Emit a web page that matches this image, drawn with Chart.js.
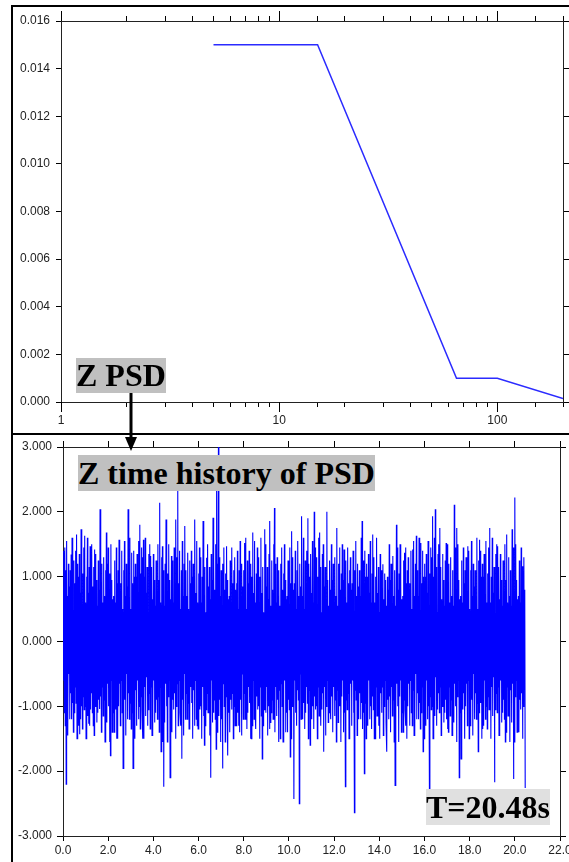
<!DOCTYPE html>
<html>
<head>
<meta charset="utf-8">
<script src="https://cdn.jsdelivr.net/npm/chart.js@4.4.1/dist/chart.umd.min.js"></script>
<style>
  html, body { margin: 0; padding: 0; background: #fff; }
  #page { position: relative; width: 569px; height: 862px; overflow: hidden; }
  .panel { position: absolute; box-sizing: border-box; border-left: 2px solid #000; border-top: 2px solid #000; }
  canvas { position: absolute; }
  .tag { position: absolute; font: bold 32px "Liberation Serif", "Times New Roman", serif; line-height: 35px;
         background: #c0c0c0; color: #000; white-space: nowrap; }
  .tag.light { background: #e0e0e0; line-height: 36px; }
  #arrow { position: absolute; left: 0; top: 0; pointer-events: none; }
</style>
</head>
<body>
<div id="page">
  <div class="panel" style="left:11px;top:5px;width:558px;height:428px"></div>
  <div class="panel" style="left:11px;top:433px;width:558px;height:429px"></div>
  <canvas id="psdChart" width="556" height="426" style="left:13px;top:7px"></canvas>
  <canvas id="timeChart" width="556" height="427" style="left:13px;top:435px"></canvas>
  <div class="tag" style="left:76px;top:358px">Z PSD</div>
  <div class="tag" style="left:78px;top:455px;line-height:36px">Z time history of PSD</div>
  <div class="tag light" style="left:426px;top:789px">T=20.48s</div>
  <svg id="arrow" width="569" height="862">
    <line x1="131" y1="393" x2="131" y2="438" stroke="#000" stroke-width="3"/>
    <polygon points="125,437 137,437 131,451" fill="#000"/>
  </svg>
</div>
<script>
// PSD profile breakpoints
const psdFreq  = [5, 15, 65, 100, 200];
const psdLevel = [0.015, 0.015, 0.001, 0.001, 0.00015];
const psdDecades = [1, 10, 100];

// time history, one sample every 0.02 s (16 samples per row)
const timeStep = 0.02;
const zAccel = [
  0.85,-0.6,1.4,-1.1,1.45,-1.3,1.1,-2.20,1.55,-0.9,0.7,-1.45,1.2,-0.5,0.85,-1.2,
  1.1,-0.8,1.34,-1.2,1.6,-0.95,0.5,-1.40,1.25,-1.1,0.9,-0.7,1.4,-0.95,1.65,-1.5,
  1.2,-0.75,1.0,-1.3,1.35,-1.43,0.75,-1.2,1.73,-1.0,0.6,-1.35,1.05,-0.85,1.45,-1.05,
  1.63,-1.0,0.6,-1.5,1.0,-0.7,1.6,-1.15,0.75,-1.27,1.15,-1.3,1.47,-1.05,1.35,-0.8,
  1.5,-1.1,0.85,-1.30,1.15,-1.45,1.42,-1.0,1.35,-0.6,0.95,-1.25,0.55,-1.1,1.25,-0.9,
  0.8,-1.04,2.04,-0.85,0.95,-1.4,1.2,-0.7,0.6,-1.15,1.3,-0.9,0.7,-1.55,1.1,-0.75,
  1.68,-1.25,1.2,-0.65,1.45,-1.0,0.8,-1.55,1.05,-1.76,1.5,-0.6,0.95,-1.4,0.65,-1.1,
  0.7,-1.4,1.25,-0.9,0.6,-1.05,1.45,-1.50,0.9,-1.5,1.1,-1.0,1.57,-0.65,0.8,-1.3,
  0.9,-0.6,1.4,-1.1,0.5,-1.96,1.1,-0.75,1.55,-0.9,0.7,-1.45,1.2,-0.5,0.85,-1.2,
  2.04,-0.8,0.7,-1.2,1.6,-0.95,0.5,-1.35,1.37,-1.1,0.9,-1.96,1.4,-0.95,1.0,-1.5,
  1.2,-0.75,1.0,-1.3,1.35,-0.6,0.75,-1.2,1.55,-1.0,1.80,-1.35,1.05,-0.85,1.45,-1.05,
  1.3,-1.50,1.57,-1.5,1.0,-0.7,1.6,-1.15,0.75,-0.55,1.15,-1.3,0.45,-1.05,1.35,-0.8,
  1.5,-1.35,1.32,-0.7,1.15,-1.45,0.65,-1.45,1.35,-0.6,0.95,-1.25,0.55,-1.1,1.25,-0.9,
  0.8,-1.2,1.5,-0.85,0.95,-1.4,2.14,-0.7,0.6,-1.70,1.3,-0.9,1.47,-1.55,1.1,-2.24,
  0.55,-1.25,1.2,-0.65,1.88,-1.0,0.8,-1.55,1.05,-0.85,1.5,-0.6,0.95,-2.10,0.65,-1.1,
  1.32,-1.4,1.25,-0.9,0.6,-1.05,1.45,-0.8,0.9,-1.50,1.88,-1.0,1.3,-0.65,2.34,-1.3,
  0.9,-0.6,1.4,-1.1,0.5,-1.3,1.1,-1.81,1.55,-0.9,0.7,-1.45,1.2,-0.5,1.78,-1.2,
  1.1,-0.8,0.7,-1.2,1.37,-0.95,0.5,-1.35,1.25,-1.1,0.9,-0.7,1.4,-0.95,1.0,-1.5,
  1.2,-0.75,1.0,-1.3,1.88,-0.6,0.75,-1.2,1.55,-1.30,0.6,-1.35,1.05,-0.85,1.45,-1.05,
  1.3,-1.0,0.6,-1.5,1.0,-0.7,1.86,-1.15,0.75,-1.60,1.15,-1.3,0.45,-1.05,1.29,-0.8,
  1.5,-1.1,0.85,-0.7,1.15,-1.45,0.65,-2.10,1.35,-0.6,0.95,-1.25,1.91,-1.1,1.25,-0.9,
  0.8,-1.2,1.5,-1.66,2.34,-1.4,1.2,-0.7,3.00,-1.15,1.3,-0.9,0.7,-1.55,1.1,-1.2,
  0.55,-1.96,1.2,-0.65,1.45,-1.0,0.8,-1.55,1.05,-0.85,1.47,-0.6,0.95,-1.76,0.65,-1.1,
  0.7,-1.4,1.25,-0.9,0.6,-1.05,1.45,-0.8,0.9,-1.5,1.1,-1.0,1.3,-1.30,0.8,-1.3,
  0.9,-0.6,1.4,-1.1,0.5,-1.3,1.1,-1.40,1.55,-0.9,0.7,-1.45,1.2,-0.5,0.85,-1.2,
  1.1,-0.8,1.52,-1.2,1.6,-0.95,0.5,-1.35,1.25,-1.1,0.9,-0.7,1.4,-0.95,1.0,-1.5,
  1.2,-1.50,1.0,-1.3,1.68,-0.6,0.75,-1.2,1.55,-1.0,0.6,-1.35,1.05,-0.85,1.45,-1.05,
  1.3,-1.0,0.6,-1.5,1.0,-0.7,1.6,-1.15,0.75,-1.81,1.15,-1.3,0.45,-1.05,1.73,-0.8,
  1.5,-1.1,0.85,-0.7,1.15,-1.45,0.65,-1.0,1.35,-1.35,1.86,-1.25,0.55,-1.1,1.25,-0.9,
  0.8,-1.2,1.5,-0.85,2.06,-1.4,1.2,-0.7,0.6,-1.15,1.3,-0.9,0.7,-1.55,1.1,-0.75,
  0.55,-1.50,1.2,-0.65,1.45,-1.0,0.8,-1.55,1.05,-0.85,1.5,-0.6,0.95,-1.4,0.65,-1.1,
  0.7,-1.4,1.25,-0.9,0.6,-1.05,1.45,-1.78,0.9,-1.5,1.70,-1.0,1.3,-0.65,0.8,-2.43,
  0.9,-0.6,1.4,-1.1,0.5,-1.3,1.1,-0.75,1.55,-0.9,0.7,-2.50,1.2,-0.5,0.85,-1.2,
  1.93,-0.8,0.7,-1.2,1.6,-0.95,0.5,-1.35,1.25,-1.1,0.9,-0.7,1.4,-0.95,1.90,-1.5,
  1.2,-0.75,1.0,-1.60,1.35,-0.6,0.75,-1.2,1.55,-1.0,0.6,-1.35,2.00,-0.85,1.45,-1.05,
  1.3,-1.0,0.6,-1.5,1.0,-0.7,1.6,-1.15,1.68,-0.55,1.15,-1.3,0.45,-1.05,1.35,-0.8,
  1.5,-1.70,0.85,-0.7,1.15,-1.45,0.65,-1.0,2.00,-0.6,0.95,-1.25,0.55,-1.1,1.25,-0.9,
  0.8,-1.2,1.5,-0.85,0.95,-1.40,1.2,-0.7,0.6,-1.15,1.3,-0.9,0.7,-1.55,1.75,-0.75,
  0.55,-1.25,1.2,-0.65,1.45,-1.0,0.8,-1.55,1.05,-0.85,1.5,-0.6,0.95,-1.4,1.42,-1.1,
  0.7,-2.24,1.25,-0.9,0.6,-1.05,1.45,-0.8,0.9,-1.5,1.1,-1.0,1.3,-0.65,0.8,-1.3,
  0.9,-0.6,1.4,-1.1,0.5,-2.64,1.1,-0.75,1.55,-0.9,0.7,-1.45,1.2,-0.5,0.85,-1.2,
  1.1,-0.8,0.7,-1.2,1.6,-0.95,1.86,-1.35,1.25,-1.1,0.9,-2.04,1.4,-0.95,1.0,-1.5,
  1.2,-0.75,1.0,-1.3,1.35,-0.6,0.75,-1.2,1.55,-1.0,0.6,-1.35,1.05,-0.85,1.65,-1.05,
  1.3,-1.50,0.6,-1.5,1.0,-0.7,1.6,-1.15,0.75,-0.55,1.15,-1.3,0.45,-1.50,1.35,-0.8,
  1.1,-1.1,0.85,-0.7,1.19,-1.45,0.65,-1.0,1.05,-0.6,0.95,-1.25,0.55,-1.70,1.0,-0.9,
  0.8,-1.2,1.5,-0.85,0.95,-1.4,1.2,-0.7,0.6,-1.15,1.32,-0.9,0.7,-1.55,1.1,-2.22,
  0.55,-1.25,1.80,-0.65,1.45,-1.0,0.8,-1.55,1.05,-0.85,1.5,-0.6,0.95,-1.4,0.65,-1.1,
  0.7,-1.4,1.25,-0.9,1.37,-1.05,1.45,-1.30,0.9,-1.5,1.1,-1.0,1.3,-0.65,0.8,-1.3,
  0.9,-0.6,1.4,-1.1,0.5,-1.3,1.42,-0.75,1.55,-1.45,0.7,-1.45,1.2,-0.5,1.63,-1.2,
  1.1,-0.8,0.7,-1.2,1.6,-0.95,0.5,-1.35,1.52,-1.1,0.9,-0.7,1.4,-1.70,1.0,-1.5,
  1.2,-0.75,1.0,-1.3,1.35,-0.6,0.75,-1.2,1.55,-1.0,0.6,-2.27,1.05,-0.85,1.45,-1.05,
  1.3,-1.0,1.93,-1.5,1.0,-1.40,1.6,-1.15,2.04,-0.55,1.15,-1.3,0.45,-1.05,1.35,-0.8,
  1.5,-1.1,1.75,-0.7,1.15,-1.45,0.65,-1.0,1.35,-0.6,0.95,-1.25,0.55,-1.1,1.25,-0.9,
  1.52,-1.2,1.5,-1.35,0.95,-1.4,1.2,-0.7,0.6,-1.15,1.3,-0.9,0.7,-1.45,1.1,-0.75,
  0.55,-1.25,2.11,-0.65,1.45,-1.0,0.8,-1.55,1.75,-0.85,1.5,-0.6,0.95,-2.10,0.65,-1.1,
  0.7,-1.81,1.25,-0.9,0.6,-1.05,1.45,-0.8,0.9,-1.5,1.1,-1.0,1.3,-0.65,0.8,-1.3,
  1.47,-0.6,1.4,-1.50,0.5,-1.3,1.1,-0.75,1.55,-0.9,0.7,-1.45,1.2,-0.5,0.85,-1.2,
  1.1,-0.8,0.7,-1.2,1.6,-0.95,0.5,-1.70,1.25,-1.1,1.57,-0.7,1.4,-0.95,1.0,-1.5,
  1.2,-1.35,1.0,-1.3,1.35,-0.6,0.75,-1.2,1.55,-1.0,0.6,-1.35,1.05,-0.85,1.45,-1.05,
  1.75,-1.0,0.6,-1.5,1.0,-0.7,1.6,-1.15,0.75,-0.55,1.15,-2.17,0.45,-1.05,1.35,-0.8,
  1.5,-1.1,1.47,-0.7,1.15,-1.45,0.65,-1.0,1.35,-0.6,0.95,-1.25,0.55,-1.1,1.25,-0.9,
  0.8,-1.2,1.5,-1.55,0.95,-1.4,1.65,-0.7,0.6,-1.15,1.3,-0.9,0.7,-1.55,1.1,-0.75,
  0.55,-1.25,1.73,-0.65,1.45,-2.12,0.8,-1.55,2.22,-0.85,1.5,-0.6,0.95,-1.4,0.65,-1.1,
  0.7,-1.4,1.25,-0.9,0.6,-1.05,1.45,-0.8,1.16,-1.5,1.1,-1.0,1.3,-0.65,0.8,-2.26
];

const axisColor = '#222';
const tickFont = { family: 'Liberation Sans, Arial, sans-serif', size: 12 };

// pin an axis box to a fixed size so the plot area lands where we want it
function fixSize(prop, size) {
  return scale => {
    scale[prop] = size;
    scale.paddingLeft = scale.paddingRight = 0;
    scale.paddingTop = scale.paddingBottom = 0;
  };
}

function edge(extra) {
  return Object.assign({
    border: { color: axisColor, width: 1 },
    grid: { drawOnChartArea: false, tickLength: 5, tickColor: '#000' }
  }, extra);
}

// longer tick marks at the decades on the log axis (top and bottom)
const majorTicks = {
  id: 'majorTicks',
  afterDraw(chart, args, opts) {
    if (!opts.values) return;
    const { ctx, chartArea } = chart;
    const xs = chart.scales.x;
    ctx.save();
    ctx.strokeStyle = '#000';
    ctx.lineWidth = 1;
    ctx.beginPath();
    opts.values.forEach(v => {
      const px = Math.round(xs.getPixelForValue(v)) + 0.5;
      ctx.moveTo(px, chartArea.top);
      ctx.lineTo(px, chartArea.top - opts.length);
      ctx.moveTo(px, chartArea.bottom);
      ctx.lineTo(px, chartArea.bottom + opts.length);
    });
    ctx.stroke();
    ctx.restore();
  }
};

const common = {
  responsive: false,
  animation: false,
  events: [],
  layout: { padding: 0 }
};

new Chart(document.getElementById('psdChart'), {
  type: 'line',
  data: {
    datasets: [{
      data: psdFreq.map((f, i) => ({ x: f, y: psdLevel[i] })),
      borderColor: '#2b2bff',
      borderWidth: 1.5,
      pointRadius: 0,
      tension: 0,
      fill: false
    }]
  },
  options: Object.assign({}, common, {
    plugins: {
      legend: { display: false },
      tooltip: { enabled: false },
      majorTicks: { values: psdDecades, length: 10 }
    },
    scales: {
      x: edge({
        type: 'logarithmic', position: 'bottom', min: 1, max: 200,
        ticks: {
          autoSkip: false, maxRotation: 0, padding: 6, color: axisColor, font: tickFont,
          callback: v => psdDecades.some(d => Math.abs(d - v) < 1e-9) ? String(v) : ''
        },
        afterFit: fixSize('height', 31)
      }),
      x2: edge({
        type: 'logarithmic', position: 'top', min: 1, max: 200,
        ticks: { display: false, autoSkip: false },
        afterFit: fixSize('height', 14)
      }),
      y: edge({
        type: 'linear', position: 'left', min: 0, max: 0.016,
        ticks: { stepSize: 0.002, padding: 6, color: axisColor, font: tickFont, callback: v => Number(v).toFixed(3) },
        afterFit: fixSize('width', 48)
      }),
      y2: edge({
        type: 'linear', position: 'right', min: 0, max: 0.016,
        ticks: { display: false, stepSize: 0.002 },
        grid: { drawOnChartArea: false, tickLength: 6, tickColor: '#000' },
        afterFit: fixSize('width', 6)
      })
    }
  }),
  plugins: [majorTicks]
});

new Chart(document.getElementById('timeChart'), {
  type: 'line',
  data: {
    datasets: [{
      data: zAccel.map((v, i) => ({ x: i * timeStep, y: v })),
      borderColor: '#0000ff',
      borderWidth: 1.1,
      pointRadius: 0,
      tension: 0,
      fill: false
    }]
  },
  options: Object.assign({}, common, {
    plugins: { legend: { display: false }, tooltip: { enabled: false } },
    scales: {
      x: edge({
        type: 'linear', position: 'bottom', min: 0, max: 22,
        ticks: { stepSize: 2, padding: 2, maxRotation: 0, color: axisColor, font: tickFont, callback: v => Number(v).toFixed(1) },
        afterFit: fixSize('height', 26)
      }),
      x2: edge({
        type: 'linear', position: 'top', min: 0, max: 22,
        ticks: { display: false, stepSize: 2 },
        grid: { drawOnChartArea: false, tickLength: 6, tickColor: '#000' },
        afterFit: fixSize('height', 12)
      }),
      y: edge({
        type: 'linear', position: 'left', min: -3, max: 3,
        ticks: { stepSize: 1, padding: 5, color: axisColor, font: tickFont, callback: v => Number(v).toFixed(3) },
        grid: { drawOnChartArea: false, tickLength: 6, tickColor: '#000' },
        afterFit: fixSize('width', 50)
      }),
      y2: edge({
        type: 'linear', position: 'right', min: -3, max: 3,
        ticks: { display: false, stepSize: 1 },
        grid: { drawOnChartArea: false, tickLength: 6, tickColor: '#000' },
        afterFit: fixSize('width', 9)
      })
    }
  })
});
</script>
</body>
</html>
